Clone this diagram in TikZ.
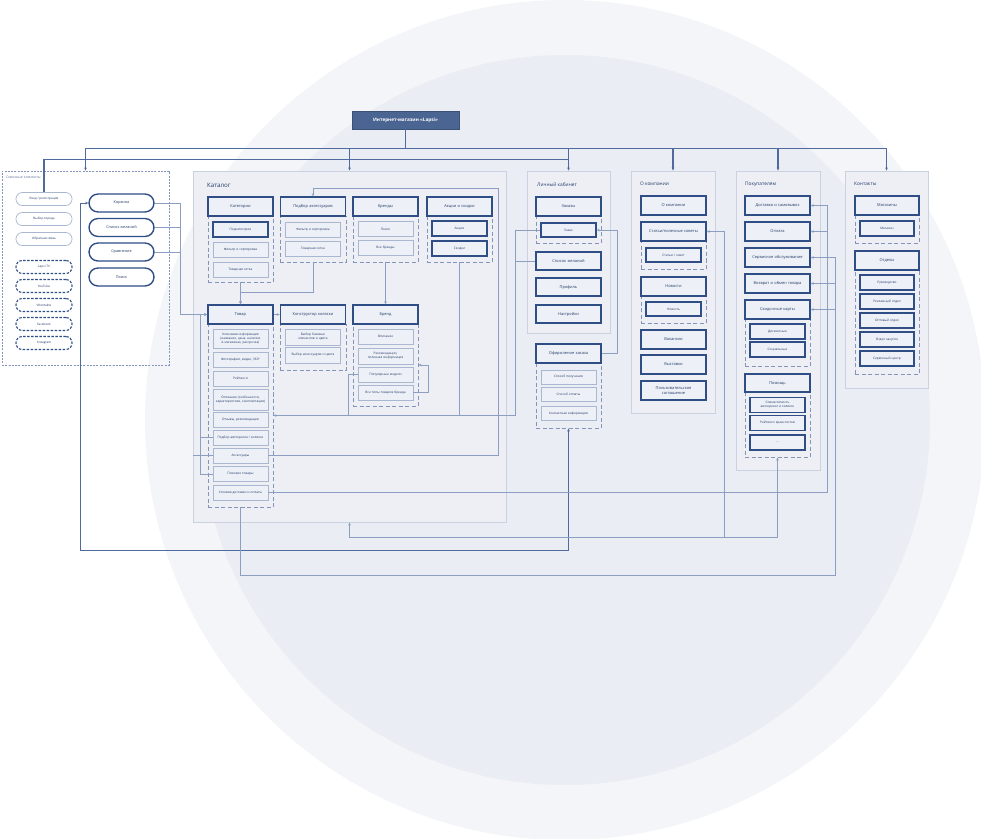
\documentclass[tikz,border=0pt]{standalone}
\usepackage{fontspec}
\setmainfont{Open Sans}
\usetikzlibrary{arrows.meta,calc}

\definecolor{navy}{HTML}{2F4E86}
\definecolor{ink}{HTML}{233A69}
\definecolor{pale}{HTML}{A9B7D0}
\definecolor{dashc}{HTML}{8395BB}
\definecolor{nodefill}{HTML}{EDF0F6}
\definecolor{sectfill}{HTML}{EDEFF5}
\definecolor{sectline}{HTML}{CAD2E2}
\definecolor{linkc}{HTML}{8C9EC2}
\definecolor{busc}{HTML}{4F6A9C}
\definecolor{topc}{HTML}{4B6592}
\definecolor{outerc}{HTML}{F4F5F8}
\definecolor{innerc}{HTML}{EAEDF3}

\begin{document}
\begin{tikzpicture}[%
        x=0.4mm, y=-0.4mm,
        >={Stealth[length=3.5pt,width=3pt]},
        sz/.style 2 args={minimum width=#1*0.4mm, minimum height=#2*0.4mm},
        hdr/.style={draw=navy, line width=0.55mm, fill=nodefill, text=ink,
                    font=\fontsize{4.5}{5.4}\selectfont, sz={65}{19},
                    text width=23mm, align=center, inner sep=0.5mm},
        sub/.style={draw=navy, line width=0.5mm, fill=nodefill, text=ink,
                    font=\fontsize{3.6}{4.4}\selectfont, sz={55}{15},
                    text width=20.5mm, align=center, inner sep=0.4mm},
        leaf/.style={sub, draw=pale, line width=0.35mm},
        grp/.style={draw=dashc, line width=0.35mm, dash pattern=on 1.6mm off 1mm},
        sect/.style={draw=sectline, fill=sectfill, line width=0.35mm},
        ttl/.style={anchor=west, text=ink, font=\fontsize{5.5}{6}\selectfont},
        pill/.style={draw=pale, line width=0.3mm, fill=white, rounded corners=2.5mm,
                     sz={56}{13}, text=ink, font=\fontsize{3.5}{4}\selectfont},
        spill/.style={pill, draw=navy, line width=0.45mm, dash pattern=on 1mm off 0.6mm},
        bpill/.style={draw=navy, line width=0.55mm, fill=white, rounded corners=3.6mm,
                      sz={65}{18}, text=ink, font=\fontsize{4.3}{5}\selectfont},
        link/.style={draw=linkc, line width=0.3mm},
        bus/.style={draw=busc, line width=0.45mm}
        ]

        % background
        \useasboundingbox (0,0) rectangle (981,839);
        \fill[white] (0,0) rectangle (981,839);
        \fill[outerc] (565,420) circle [radius=420];
        \fill[innerc] (565,420) circle [radius=365];

        % top
        \node[draw=topc!80!black, fill=topc, text=white, sz={107}{18},
              font=\fontsize{5.3}{6}\selectfont\bfseries] (top) at (405.5,120) {Интернет-магазин «Lapsi»};

        % sections
        \node[draw=dashc, line width=0.3mm, dash pattern=on 0.8mm off 0.5mm, sz={167}{194}] (side) at (85.5,268) {};
        \node[sect, sz={313}{351}] (catalog) at (349.5,346.5) {};
        \node[sect, sz={83}{162}] (lk) at (568.5,252) {};
        \node[sect, sz={84}{242}] (company) at (673,292) {};
        \node[sect, sz={84}{299}] (buyers) at (778,320.5) {};
        \node[sect, sz={83}{217}] (contacts) at (886.5,279.5) {};

        \node[anchor=west, text=dashc!70!ink, font=\fontsize{4}{5}\selectfont] (sidettl) at (3,177) {Сквозные элементы};
        \node[ttl, font=\fontsize{7}{8}\selectfont] (catttl) at (204,185) {Каталог};
        \node[ttl] (lkttl) at (534,185) {Личный кабинет};
        \node[ttl] (compttl) at (637,184) {О компании};
        \node[ttl] (buyttl) at (742,184) {Покупателям};
        \node[ttl] (contttl) at (851,184) {Контакты};

        % groups
        \node[grp, sz={65}{66}] (gkat) at (240.5,249) {};
        \node[grp, sz={66}{46}] (gacc) at (313,239) {};
        \node[grp, sz={65}{46}] (gbr) at (385.5,239) {};
        \node[grp, sz={65}{46}] (gsale) at (459.5,239) {};
        \node[grp, sz={65}{183}] (gitem) at (240.5,415.5) {};
        \node[grp, sz={66}{46}] (gctor) at (313,347) {};
        \node[grp, sz={65}{82}] (gbrand) at (385.5,365) {};
        \node[grp, sz={65}{27}] (gorders) at (568.5,229.5) {};
        \node[grp, sz={65}{65}] (gcheck) at (568.5,395.5) {};
        \node[grp, sz={65}{28}] (garticles) at (673.5,255) {};
        \node[grp, sz={65}{27}] (gnews) at (673.5,309.5) {};
        \node[grp, sz={65}{47}] (gcards) at (777.5,342.5) {};
        \node[grp, sz={65}{65}] (ghelp) at (777.5,424.5) {};
        \node[grp, sz={64}{28}] (gshops) at (887,229) {};
        \node[grp, sz={64}{104}] (gdeps) at (887,322) {};

        % side elements
        \node[pill] (login) at (44,199) {Вход / регистрация};
        \node[pill] (city) at (44,219) {Выбор города};
        \node[pill] (feedback) at (44,239) {Обратная связь};
        \node[spill] (tv) at (44,267) {Lapsi TV};
        \node[spill] (yt) at (44,286) {YouTube};
        \node[spill] (vk) at (44,305) {VKontakte};
        \node[spill] (fb) at (44,324) {Facebook};
        \node[spill] (ig) at (44,343) {Instagram};
        \node[bpill] (cart) at (121.5,203) {Корзина};
        \node[bpill] (wish) at (121.5,227.5) {Список желаний};
        \node[bpill] (compare) at (121.5,252) {Сравнение};
        \node[bpill] (search) at (121.5,277) {Поиск};

        % catalog
        \node[hdr] (kat) at (240.5,206.5) {Категории};
        \node[sub] (subcat) at (240.5,229.5) {Подкатегории};
        \node[leaf] (kfilt) at (240.5,249.5) {Фильтр и сортировка};
        \node[leaf] (kgrid) at (240.5,269.5) {Товарная сетка};

        \node[hdr] (acc) at (313,206.5) {Подбор аксессуаров};
        \node[leaf] (afilt) at (313,229.5) {Фильтр и сортировка};
        \node[leaf] (agrid) at (313,248.5) {Товарная сетка};

        \node[hdr] (brands) at (385.5,206.5) {Бренды};
        \node[leaf] (bsearch) at (385.5,229) {Поиск};
        \node[leaf] (ball) at (385.5,247.5) {Все бренды};

        \node[hdr] (sale) at (459.5,206.5) {Акции и скидки};
        \node[sub] (promo) at (459.5,228.5) {Акции};
        \node[sub] (disc) at (459.5,248.5) {Скидки};

        \node[hdr] (item) at (240.5,314.5) {Товар};
        \node[leaf, sz={55}{19}] (i1) at (240.5,338.5) {Ключевая информация (название, цена, наличие в магазинах, рассрочка)};
        \node[leaf] (i2) at (240.5,359.5) {Фотографии, видео, 360°};
        \node[leaf] (i3) at (240.5,378.5) {Рейтинги};
        \node[leaf, sz={55}{21}] (i4) at (240.5,399.5) {Описание (особенности, характеристики, комплектация)};
        \node[leaf] (i5) at (240.5,419.5) {Отзывы, рекомендации};
        \node[leaf] (i6) at (240.5,437.5) {Подбор автокресла / коляски};
        \node[leaf] (i7) at (240.5,455.5) {Аксессуары};
        \node[leaf] (i8) at (240.5,474) {Похожие товары};
        \node[leaf] (i9) at (240.5,492.5) {Условия доставки и оплаты};

        \node[hdr] (ctor) at (313,314.5) {Конструктор коляски};
        \node[leaf, sz={55}{16}] (c1) at (313,337) {Выбор базовых элементов и цвета};
        \node[leaf, sz={55}{16}] (c2) at (313,355) {Выбор аксессуаров и цвета};

        \node[hdr] (brand) at (385.5,314.5) {Бренд};
        \node[leaf] (b1) at (385.5,336.5) {Описание};
        \node[leaf, sz={55}{16}] (b2) at (385.5,356) {Рекомендации, полезная информация};
        \node[leaf] (b3) at (385.5,374.5) {Популярные модели};
        \node[leaf] (b4) at (385.5,392.5) {Все типы товаров бренда};

        % personal account
        \node[hdr] (orders) at (568.5,206.5) {Заказы};
        \node[sub, sz={55}{14}] (order) at (568.5,230) {Заказ};
        \node[hdr, sz={65}{18}] (lwish) at (568.5,261) {Список желаний};
        \node[hdr, sz={65}{18}] (profile) at (568.5,287) {Профиль};
        \node[hdr, sz={65}{18}] (settings) at (568.5,314) {Настройки};
        \node[hdr] (checkout) at (568.5,353.5) {Оформление заказа};
        \node[leaf, sz={55}{14}] (ch1) at (568.5,377) {Способ получения};
        \node[leaf, sz={55}{14}] (ch2) at (568.5,394.5) {Способ оплаты};
        \node[leaf, sz={55}{14}] (ch3) at (568.5,413.5) {Контактная информация};

        % company
        \node[hdr] (about) at (673.5,205.5) {О компании};
        \node[hdr] (articles) at (673.5,231.5) {Статьи/полезные советы};
        \node[sub, sz={55}{14}] (article) at (673.5,255) {Статья / совет};
        \node[hdr] (news) at (673.5,286.5) {Новости};
        \node[sub, sz={55}{14}] (newsitem) at (673.5,309) {Новость};
        \node[hdr] (jobs) at (673.5,339.5) {Вакансии};
        \node[hdr] (expo) at (673.5,364.5) {Выставки};
        \node[hdr] (terms) at (673.5,390.5) {Пользовательское соглашение};

        % buyers
        \node[hdr] (delivery) at (777.5,205.5) {Доставка и самовывоз};
        \node[hdr] (pay) at (777.5,231.5) {Оплата};
        \node[hdr] (service) at (777.5,257.5) {Сервисное обслуживание};
        \node[hdr] (ret) at (777.5,283.5) {Возврат и обмен товара};
        \node[hdr] (cards) at (777.5,309.5) {Скидочные карты};
        \node[sub] (dcard) at (777.5,331.5) {Дисконтные};
        \node[sub] (scard) at (777.5,349.5) {Социальные};
        \node[hdr, sz={65}{18}] (help) at (777.5,383) {Помощь};
        \node[sub, sz={55}{15}] (h1) at (777.5,405) {Совместимость автокресел и колясок};
        \node[sub] (h2) at (777.5,423) {Рейтинги краш-тестов};
        \node[sub] (h3) at (777.5,442.5) {...};

        % contacts
        \node[hdr, sz={64}{19}] (shops) at (887,205.5) {Магазины};
        \node[sub, sz={54}{15}] (shop) at (887,228.5) {Магазин};
        \node[hdr, sz={64}{19}] (deps) at (887,260.5) {Отделы};
        \node[sub, sz={54}{15}] (d1) at (887,282.5) {Руководство};
        \node[sub, sz={54}{15}] (d2) at (887,301.5) {Рекламный отдел};
        \node[sub, sz={54}{15}] (d3) at (887,320.5) {Оптовый отдел};
        \node[sub, sz={54}{15}] (d4) at (887,339.5) {Отдел закупок};
        \node[sub, sz={54}{15}] (d5) at (887,358.5) {Сервисный центр};

        % tree from the top
        \foreach \s in {side,catalog,lk,company,buyers,contacts}
            \draw[bus,->] (top.south) -- ++(0,19) -| (\s.north);
        \draw[bus] (lk.north) ++(0,-11) -| (login.north);

        % catalog links
        \draw[link,->] (gkat.south) -- (item.north);
        \draw[link,->] (gacc.south) -- ++(0,30) -| (item.north);
        \draw[link,->] (gbr.south) -- (brand.north);
        \draw[link,->] (item) -- (ctor);
        \draw[link,->] (i7.east) -- ++(230,0) -- ++(0,-267.5) -| (acc.north);
        \draw[link] (gsale.south) -- (gsale.south |- gitem.east);
        \draw[link,->] (order.west) -- ++(-25,0) |- (gitem.east);
        \draw[link] (lwish.west) -- ++(-20,0);
        \draw[link] (b3.west) -- ++(-9,0) -- ++(0,41);
        \draw[link,->] (b4.east) -- ++(15,0) |- (gbrand.east);
        \draw[link,->] (cart.east) -- ++(26,0) |- (item.west);
        \draw[link] (wish.east) -- ++(26,0);
        \draw[link] (compare.east) -- ++(26,0);
        \draw[link,->] (i8.west) -- ++(-12,0) |- (item.west);
        \draw[link] (i6.west) -- ++(-12,0);
        \draw[link] (i7.west) -- ++(-20,0);

        % order links
        \draw[link,->] (checkout.east) -- ++(16,0) |- (order.east);
        \draw[bus,line width=0.35mm,<->] (cart.west) -- ++(-8,0) -- ++(0,347) -| (gcheck.south);

        % buyers links
        \draw[link,->] (i9.east) -- ++(559,0) |- (delivery.east);
        \draw[link,->] (pay.east) ++(16.5,0) -- (pay.east);
        \draw[link,->] (gitem.south) -- ++(0,68) -- ++(594.5,0) |- (service.east);
        \draw[link,->] (ret.east) ++(25,0) -- (ret.east);
        \draw[link,->] (cards.east) ++(25,0) -- (cards.east);
        \draw[link,<->] (catalog.south) -- ++(0,15) -| (ghelp.south);
        \draw[link,->] (catalog.south) ++(375,15) |- (articles.east);

\end{tikzpicture}
\end{document}
